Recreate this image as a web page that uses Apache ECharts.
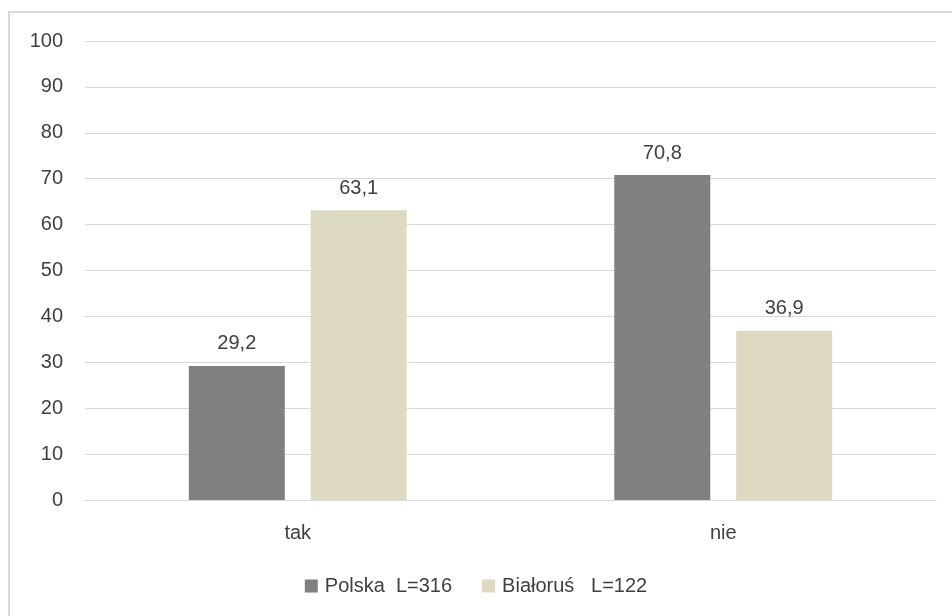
<!DOCTYPE html>
<html>
<head>
<meta charset="utf-8">
<script src="https://cdn.jsdelivr.net/npm/echarts@6/dist/echarts.min.js"></script>
<style>
html,body{margin:0;padding:0;background:#fff;}
#chart{width:952px;height:616px;}
</style>
</head>
<body>
<div id="chart"></div>
<script>
const categories = ['tak', 'nie'];
const seriesNames = ['Polska  L=316', 'Białoruś   L=122'];
const polska = [29.2, 70.8];
const bialorus = [63.1, 36.9];
const yTicks = [0, 10, 20, 30, 40, 50, 60, 70, 80, 90, 100];

const fmt = v => String(v.value !== undefined ? v.value : v).replace('.', ',');
const FONT = 'Liberation Sans';
const TXT = '#404040';

const chart = echarts.init(document.getElementById('chart'), null, {renderer: 'canvas'});
chart.setOption({
  animation: false,
  backgroundColor: '#fff',
  textStyle: {fontFamily: FONT},
  graphic: [{
    type: 'rect', silent: true, z: -1,
    shape: {x: 9, y: 12, width: 960, height: 620},
    style: {fill: 'none', stroke: '#d9d9d9', lineWidth: 2}
  }],
  grid: {left: 85, right: 16, top: 41, bottom: 116, containLabel: false},
  legend: {
    bottom: 15, left: 'center',
    itemWidth: 13, itemHeight: 13, itemGap: 30,
    icon: 'rect',
    textStyle: {fontFamily: FONT, fontSize: 20, color: TXT, padding: [0, 0, 0, 2]},
    data: seriesNames
  },
  xAxis: {
    type: 'category', data: categories,
    axisLine: {show: true, lineStyle: {color: '#d9d9d9', width: 1}},
    axisTick: {show: false},
    axisLabel: {fontFamily: FONT, fontSize: 20, color: TXT, margin: 23}
  },
  yAxis: {
    type: 'value', min: yTicks[0], max: yTicks[yTicks.length - 1], interval: 10,
    axisLine: {show: false}, axisTick: {show: false},
    splitLine: {lineStyle: {color: '#d9d9d9', width: 1}},
    axisLabel: {fontFamily: FONT, fontSize: 20, color: TXT, margin: 22}
  },
  series: [
    {
      name: seriesNames[0], type: 'bar', data: polska,
      barWidth: 96, barGap: '27%',
      itemStyle: {color: '#808080'},
      label: {show: true, position: 'top', distance: 12, fontFamily: FONT, fontSize: 20, color: TXT, formatter: p => fmt(p.value)}
    },
    {
      name: seriesNames[1], type: 'bar', data: bialorus,
      barWidth: 96, barGap: '27%',
      itemStyle: {color: '#ddd9c3'},
      label: {show: true, position: 'top', distance: 12, fontFamily: FONT, fontSize: 20, color: TXT, formatter: p => fmt(p.value)}
    }
  ]
});
</script>
</body>
</html>
